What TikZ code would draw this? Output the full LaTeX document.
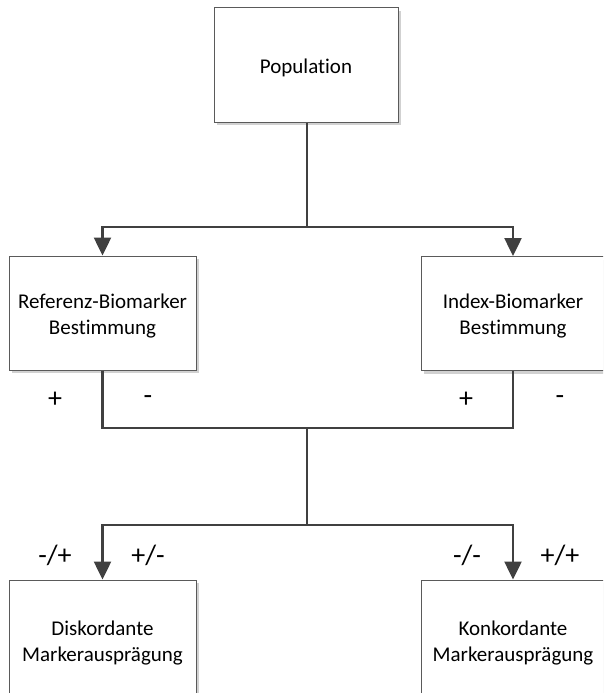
\documentclass[tikz,border=0pt]{standalone}
\usepackage{fontspec}
\setmainfont{Carlito}[Ligatures={NoCommon}]
\usetikzlibrary{arrows.meta,shadows}
\definecolor{conn}{HTML}{404040}
\definecolor{boxline}{HTML}{5A5A5A}
\tikzset{
  box/.style={draw=boxline, line width=1pt, fill=white, align=center, inner sep=0pt,
    font=\fontsize{21}{26}\selectfont,
    drop shadow={shadow xshift=3pt, shadow yshift=-3pt, fill=black!18, opacity=1}},
  conn/.style={draw=conn, line width=2.5pt},
  arr/.style={conn, -{Triangle[length=18pt,width=17pt]}},
  sign/.style={font=\fontsize{28}{30}\selectfont, inner sep=0pt}
}
\begin{document}
\begin{tikzpicture}[x=1pt,y=-1pt]
\useasboundingbox[fill=white] (0,0) rectangle (603,693);
\begin{scope}
\clip (0,0) rectangle (603,693);
\node[box, minimum width=184pt, minimum height=114pt, text height=22pt, text depth=5pt] (pop) at (306,65) {Population};
\node[box, minimum width=187pt, minimum height=114pt, text height=46pt] (ref) at (102.5,313) {Referenz-Biomarker\\Bestimmung};
\node[box, minimum width=184pt, minimum height=114pt, text height=46pt] (idx) at (513,313.5) {Index-Biomarker\\Bestimmung};
\node[box, minimum width=187pt, minimum height=122pt, text height=44pt] (dis) at (102.5,641) {Diskordante\\Markerausprägung};
\node[box, minimum width=184pt, minimum height=122pt, text height=44pt] (kon) at (513,641) {Konkordante\\Markerausprägung};

\coordinate (j1) at (307,227);
\coordinate (j2) at (307,428);
\coordinate (j3) at (307,525);

\draw[conn] (pop.south -| j1) -- (j1);
\draw[arr] (j1) -| (ref.north);
\draw[arr] (j1) -| (idx.north);

\draw[conn] (ref.south) |- (j2);
\draw[conn] (idx.south) |- (j2);
\draw[conn] (j2) -- (j3);
\draw[arr] (j3) -| (dis.north);
\draw[arr] (j3) -| (kon.north);

\node[sign] (p1) at (55,400) {+};
\node[sign] (m1) at (148,400) {-};
\node[sign] (p2) at (466,400) {+};
\node[sign] (m2) at (560,400) {-};

\node[sign] (dmp) at (55,555) {-/+};
\node[sign] (dpm) at (148,555) {+/-};
\node[sign] (kmm) at (467,555) {-/-};
\node[sign] (kpp) at (560,555) {+/+};
\end{scope}
\end{tikzpicture}
\end{document}
